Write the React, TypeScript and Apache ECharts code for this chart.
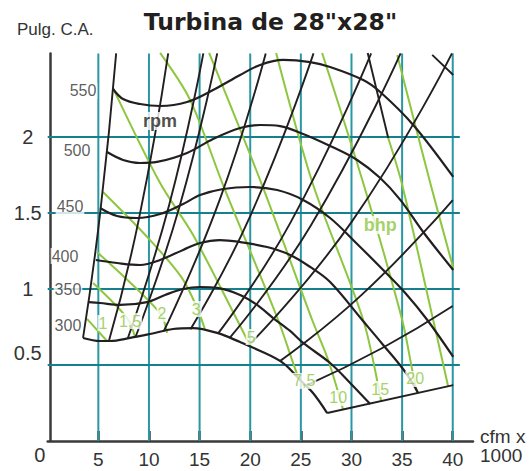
import React, { useEffect, useRef } from 'react';
import * as echarts from 'echarts';

const FONT = '"Liberation Sans", Arial, Helvetica, sans-serif';

// axes
const xTickValues = [5, 10, 15, 20, 25, 30, 35, 40];
const yTickValues = [0, 0.5, 1, 1.5, 2];
const hGridValues = [0.5, 1, 1.5, 2];
const X_MAX = 42;
const Y_MAX = 2.55;
const H_GRID_END = 40.7;

// rpm (fan) curves: [cfm x 1000, in. w.g.]
const rpmNames = ['300', '350', '400', '450', '500', '550'];
const rpm300 = [[3.49,0.678],[5.17,0.658],[6.16,0.658],[8.13,0.678],[10.11,0.704],[12.38,0.737],[14.36,0.743],[16.73,0.711],[19.0,0.651],[20.78,0.599],[23.25,0.513],[24.93,0.401],[26.2,0.316],[27.6,0.184]];
const rpm350 = [[4.08,0.914],[5.17,0.908],[7.14,0.895],[9.81,0.914],[11.59,0.961],[13.37,1.0],[15.05,1.013],[16.73,1.007],[19.0,0.961],[20.68,0.895],[22.26,0.809],[23.94,0.724],[25.23,0.645],[27.89,0.513],[29.87,0.382],[31.85,0.243]];
const rpm400 = [[4.75,1.191],[6.85,1.171],[9.12,1.158],[11.1,1.191],[13.37,1.257],[15.05,1.303],[17.0,1.322],[19.0,1.309],[21.67,1.276],[23.94,1.224],[25.92,1.145],[27.89,1.046],[31.06,0.796],[33.13,0.632],[35.31,0.454],[36.59,0.316]];
const rpm450 = [[5.17,1.533],[6.85,1.48],[8.82,1.467],[11.1,1.493],[13.37,1.559],[15.05,1.618],[17.32,1.658],[19.99,1.671],[22.66,1.651],[25.23,1.586],[27.89,1.467],[30.46,1.303],[33.13,1.125],[35.31,0.974],[37.49,0.796],[40.05,0.553]];
const rpm500 = [[5.86,1.901],[7.44,1.849],[9.12,1.829],[10.8,1.836],[13.76,1.895],[16.33,1.987],[19.0,2.059],[20.98,2.079],[22.95,2.072],[25.23,2.02],[27.89,1.941],[30.56,1.849],[32.84,1.73],[34.82,1.586],[37.08,1.375],[40.05,1.125]];
const rpm550 = [[6.45,2.316],[7.44,2.25],[9.12,2.217],[11.1,2.204],[13.76,2.23],[16.33,2.309],[19.0,2.408],[20.98,2.474],[23.25,2.507],[25.92,2.493],[27.89,2.461],[31.16,2.375],[32.84,2.296],[36.1,2.079],[40.05,1.737]];
const rpmLabelPos = [[2.0,0.757],[2.0,1.0],[1.71,1.217],[2.2,1.546],[2.9,1.908],[3.49,2.303]];

// boundaries and other black lines
const stallLine = [[3.49,0.678],[5.2,1.51],[6.76,2.55]];
const endLine = [[27.6,0.184],[40.05,0.368]];
const segmentA = [[31.6,2.553],[33.63,1.993]];
const segmentB = [[37.97,2.54],[40.05,2.408]];

// system lines (rising)
const sys1 = [[6.05,0.659],[9.0,1.458],[11.9,2.55]];
const sys2 = [[7.9,0.674],[12.0,1.555],[15.37,2.55]];
const sys3 = [[8.7,0.689],[13.0,1.538],[16.74,2.55]];
const sys4 = [[11.45,0.721],[17.0,1.59],[21.53,2.55]];
const sys5 = [[14.1,0.736],[20.0,1.48],[26.25,2.55]];
const sys6 = [[16.85,0.71],[24.0,1.44],[31.94,2.55]];
const sys7 = [[17.95,0.677],[26.0,1.42],[34.85,2.55]];
const sys8 = [[19.8,0.627],[30.0,1.44],[39.92,2.55]];
const sys9 = [[22.9,0.524],[31.0,0.961],[40.0,1.585]];
const sys10 = [[25.5,0.364],[33.0,0.61],[40.0,0.888]];

// bhp lines (green)
const bhpNames = ['1', '1,5', '2', '3', '5', '7,5', '10', '15', '20'];
const bhp1 = [[3.88,0.803],[5.86,0.658]];
const bhp15 = [[4.48,1.039],[7.84,0.809],[8.63,0.684]];
const bhp2 = [[4.87,1.243],[11.1,0.842],[11.79,0.711]];
const bhp3 = [[5.46,1.638],[10.11,1.322],[13.27,1.072],[14.76,0.875],[15.55,0.73]];
const bhp5 = [[6.45,2.322],[11.1,1.697],[14.36,1.355],[18.71,0.796],[20.0,0.625]];
const bhp75 = [[11.1,2.553],[14.07,2.243],[17.32,1.684],[22.76,0.796],[24.73,0.421],[25.23,0.368]];
const bhp10 = [[15.94,2.553],[21.17,1.684],[26.12,0.796],[27.7,0.533],[29.18,0.204]];
const bhp15b = [[22.56,2.553],[26.22,1.684],[31.16,0.796],[32.94,0.257]];
const bhp20 = [[27.1,2.553],[31.16,1.697],[35.01,0.796],[36.0,0.467],[36.49,0.316]];
const bhp25 = [[33.63,1.993],[35.01,1.684],[38.07,0.796],[39.56,0.355]];
const bhp30 = [[34.52,2.539],[37.78,1.697],[40.05,1.138]];
const bhpLabelPos = [[5.46,0.776],[8.13,0.789],[11.29,0.836],[14.66,0.868],[20.09,0.684],[25.33,0.395],[28.68,0.283],[32.83,0.342],[36.29,0.408]];

const rpmTitlePos = [11.1, 2.105];
const bhpTitlePos = [32.83, 1.421];

const BLACK = '#231f20';
const GREEN = '#8dc63f';
const TEAL_V = '#2a97a3';
const TEAL_H = '#17808d';
const TEXT = '#333333';

function line(data: number[][], color: string, width: number, z: number, smooth: number | boolean) {
  return {
    type: 'line',
    data,
    symbol: 'none',
    smooth,
    lineStyle: { color, width },
    silent: true,
    z,
    clip: false,
    animation: false,
  };
}

function labelSeries(pos: number[][], names: string[], color: string, fontSize: number, bold: boolean) {
  return {
    type: 'scatter',
    data: pos.map((p, i) => ({ value: p, name: names[i] })),
    symbolSize: 1,
    itemStyle: { color: 'rgba(0,0,0,0)' },
    silent: true,
    z: 10,
    label: {
      show: true,
      position: 'inside',
      formatter: '{b}',
      color,
      fontSize,
      fontFamily: FONT,
      fontWeight: bold ? 'bold' : 'normal',
      backgroundColor: '#ffffff',
      padding: [0, 1],
    },
  };
}

export default function App() {
  const ref = useRef<HTMLDivElement>(null);
  useEffect(() => {
    if (!ref.current) return;
    const chart = echarts.init(ref.current, null, { renderer: 'svg' });
    const series: any[] = [];
    xTickValues.forEach((v) => series.push(line([[v, 0], [v, Y_MAX]], TEAL_V, 2, 1, false)));
    hGridValues.forEach((v) => series.push(line([[0, v], [H_GRID_END, v]], TEAL_H, 2, 1, false)));
    [bhp1, bhp15, bhp2, bhp3, bhp5, bhp75, bhp10, bhp15b, bhp20, bhp25, bhp30].forEach((d) =>
      series.push(line(d, GREEN, 2, 2, 0.3))
    );
    [sys1, sys2, sys3, sys4, sys5, sys6, sys7, sys8, sys9, sys10, stallLine].forEach((d) =>
      series.push(line(d, BLACK, 1.9, 3, 0.5))
    );
    [endLine, segmentA, segmentB].forEach((d) => series.push(line(d, BLACK, 1.9, 3, false)));
    [rpm300, rpm350, rpm400, rpm450, rpm500, rpm550].forEach((d) =>
      series.push(line(d, BLACK, 2.2, 4, 0.35))
    );
    series.push(labelSeries(rpmLabelPos, rpmNames, TEXT, 16, false));
    series.push(labelSeries(bhpLabelPos, bhpNames, GREEN, 16, false));
    series.push(labelSeries([rpmTitlePos], ['rpm'], BLACK, 18, true));
    series.push(labelSeries([bhpTitlePos], ['bhp'], GREEN, 18, true));

    chart.setOption({
      animation: false,
      grid: { left: 47.7, right: 56, top: 53.4, bottom: 30, containLabel: false, outerBoundsMode: 'none' },
      xAxis: {
        type: 'value',
        min: 0,
        max: X_MAX,
        interval: 5,
        axisLine: { show: true, lineStyle: { color: '#3a3a3a', width: 2.5 } },
        axisTick: { show: true, inside: true, length: 10, lineStyle: { color: '#3a3a3a', width: 2.5 }, customValues: xTickValues },
        axisLabel: {
          customValues: xTickValues,
          formatter: (v: number) => (xTickValues.indexOf(v) >= 0 ? String(v) : ''),
          fontSize: 19,
          fontFamily: FONT,
          color: TEXT,
          margin: 9,
        },
        splitLine: { show: false },
      },
      yAxis: {
        type: 'value',
        min: 0,
        max: Y_MAX,
        offset: -3,
        axisLine: { show: true, lineStyle: { color: '#3a3a3a', width: 2.5 } },
        axisTick: { show: false },
        axisLabel: {
          customValues: yTickValues,
          formatter: (v: number) => {
            if (v === 0) return '{z|0}';
            if (v === 0.5) return '{h|0.5}';
            return yTickValues.indexOf(v) >= 0 ? String(v) : '';
          },
          align: 'center',
          margin: 23,
          fontSize: 20,
          fontFamily: FONT,
          color: TEXT,
          rich: {
            z: { fontSize: 20, fontFamily: FONT, color: TEXT, padding: [28, 0, 0, 24] },
            h: { fontSize: 20, fontFamily: FONT, color: TEXT, padding: [0, 0, 24, 0] },
          },
        },
        splitLine: { show: false },
      },
      graphic: [
        {
          type: 'text', x: 270.5, y: 22, silent: true,
          style: { text: 'Turbina de 28"x28"', fontSize: 23.5, fontWeight: 'bold', fontFamily: '"DejaVu Sans", sans-serif', fill: BLACK, align: 'center', verticalAlign: 'middle' },
        },
        {
          type: 'text', x: 17, y: 29, silent: true,
          style: { text: 'Pulg. C.A.', fontSize: 17, fontFamily: FONT, fill: TEXT, align: 'left', verticalAlign: 'middle' },
        },
        {
          type: 'text', x: 480, y: 427, silent: true,
          style: { text: 'cfm x\n1000', fontSize: 19, lineHeight: 19, fontFamily: FONT, fill: TEXT, align: 'left', verticalAlign: 'top' },
        },
      ],
      series,
    });
    return () => chart.dispose();
  }, []);
  return <div ref={ref} style={{ position: 'fixed', left: 0, top: 0, width: 529, height: 471, background: '#fff' }} />;
}
